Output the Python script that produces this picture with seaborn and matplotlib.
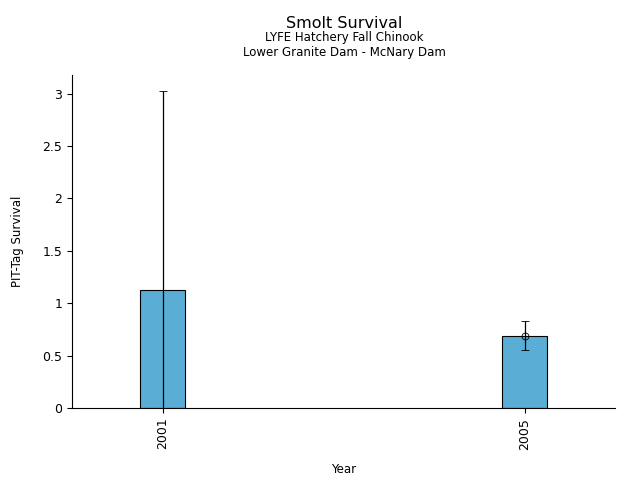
import numpy as np
import pandas as pd
import matplotlib
matplotlib.use("Agg")
import matplotlib.pyplot as plt
import seaborn as sns

sns.set_style("ticks", {"text.color": "black", "axes.labelcolor": "black",
                        "xtick.color": "black", "ytick.color": "black",
                        "axes.edgecolor": "black"})

years = [2001, 2005]
survival = [1.13, 0.69]
err_low = [1.90, 0.135]
err_high = [1.90, 0.14]
show_marker = [False, True]

df = pd.DataFrame({"Year": years, "Survival": survival})

fig, ax = plt.subplots(figsize=(6.4, 4.8), dpi=100)
fig.subplots_adjust(left=0.1125, right=0.961, top=0.844, bottom=0.15)

sns.barplot(data=df, x="Year", y="Survival", native_scale=True, width=0.125,
            color="#5aaed6", saturation=1, edgecolor="black", linewidth=0.8,
            errorbar=None, ax=ax)

for yr, s, lo, hi, mk in zip(years, survival, err_low, err_high, show_marker):
    ax.errorbar(yr, s, yerr=[[lo], [hi]], fmt="o" if mk else "none",
                mfc="none", mec="black", ms=5, mew=0.6,
                ecolor="black", elinewidth=0.9, capsize=3, capthick=0.9)

ax.set_xlim(2000, 2006)
ax.set_ylim(0, 3.18)
ax.set_xticks(years)
ax.set_xticklabels([str(y) for y in years], rotation=90, fontsize=9)
ax.set_yticks([0, 0.5, 1, 1.5, 2, 2.5, 3])
ax.set_yticklabels(["0", "0.5", "1", "1.5", "2", "2.5", "3"], fontsize=9)
ax.set_xlabel("Year", fontsize=8.5, labelpad=10)
ax.set_ylabel("PIT-Tag Survival", fontsize=8.5, labelpad=13)
sns.despine(ax=ax)

fig.text(0.5375, 0.952, "Smolt Survival", ha="center", va="center", fontsize=11.5)
fig.text(0.5375, 0.921, "LYFE Hatchery Fall Chinook", ha="center", va="center", fontsize=8.5)
fig.text(0.5375, 0.890, "Lower Granite Dam - McNary Dam", ha="center", va="center", fontsize=8.5)

plt.savefig("out.png", dpi=100)
